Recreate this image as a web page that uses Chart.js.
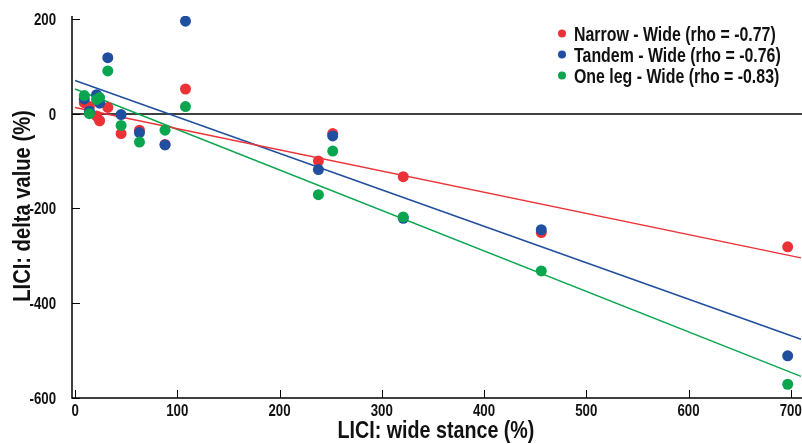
<!DOCTYPE html>
<html>
<head>
<meta charset="utf-8">
<script src="https://cdn.jsdelivr.net/npm/chart.js@4/dist/chart.umd.min.js"></script>
<style>
  html, body { margin: 0; padding: 0; background: #fff; }
  #wrap { width: 802px; height: 444px; }
</style>
</head>
<body>
<div id="wrap"><canvas id="canvas" width="802" height="444"></canvas></div>
<script>
// LICI wide stance (%) per subject
const wideStance = [9, 14, 21, 24, 32, 45, 63, 88, 108, 238, 252, 321, 456, 697];
// delta values per condition
const narrowDelta = [23, 15, -5, -15, 13, -42, -35, -65, 52, -100, -42, -133, -251, -281];
const tandemDelta = [31, 5, 40, 22, 118, -2, -40, -66, 195, -118, -47, -221, -245, -511];
const oneLegDelta = [38, 0, 30, 34, 90, -25, -60, -35, 15, -171, -79, -218, -332, -571];

const seriesLabels = ['Narrow - Wide (rho = -0.77)', 'Tandem - Wide (rho = -0.76)', 'One leg - Wide (rho = -0.83)'];
const seriesColors = ['#ec3237', '#1f4f9e', '#0aa64f'];

// regression lines
const fitIntercepts = [13, 70, 52];
const fitSlopes = [-0.447, -0.769, -0.854];
const fitRange = [0, 710];

const xTicks = [0, 100, 200, 300, 400, 500, 600, 700];
const yTicks = [-600, -400, -200, 0, 200];
const xTitle = 'LICI: wide stance (%)';
const yTitle = 'LICI: delta value (%)';

const FONT = '"Liberation Sans", Arial, sans-serif';

function points(ys) {
	return wideStance.map((x, i) => ({x: x, y: ys[i]}));
}

// narrow bold text (squeezed Arial, looks like Arial Narrow)
function narrowText(ctx, text, x, y, size, align, sx, rot) {
	ctx.save();
	ctx.translate(x, y);
	if (rot) ctx.rotate(rot);
	ctx.scale(sx, 1);
	ctx.font = 'bold ' + size + 'px ' + FONT;
	ctx.textAlign = align;
	ctx.textBaseline = 'alphabetic';
	ctx.fillText(text, 0, 0);
	ctx.restore();
}

const allDeltas = [narrowDelta, tandemDelta, oneLegDelta];
const datasets = [];
allDeltas.forEach((ys, i) => {
	datasets.push({
		type: 'scatter',
		label: seriesLabels[i],
		data: points(ys),
		backgroundColor: seriesColors[i],
		borderColor: seriesColors[i],
		borderWidth: 0,
		pointRadius: 5.5,
		order: 3 - i
	});
});
allDeltas.forEach((ys, i) => {
	datasets.push({
		type: 'line',
		label: 'fit' + i,
		data: fitRange.map(x => ({x: x, y: fitIntercepts[i] + fitSlopes[i] * x})),
		borderColor: seriesColors[i],
		borderWidth: 1.5,
		pointRadius: 0,
		fill: false,
		order: 10
	});
});

const axesPlugin = {
	id: 'axesPlugin',
	beforeDatasetsDraw(chart) {
		const ctx = chart.ctx;
		const y = chart.scales.y;
		const a = chart.chartArea;
		ctx.save();
		ctx.strokeStyle = '#000';
		ctx.lineWidth = 1.5;
		// zero line
		const y0 = Math.round(y.getPixelForValue(0));
		ctx.beginPath();
		ctx.moveTo(a.left, y0);
		ctx.lineTo(a.right, y0);
		ctx.stroke();
		ctx.restore();
	},
	afterDatasetsDraw(chart) {
		const ctx = chart.ctx;
		const x = chart.scales.x, y = chart.scales.y;
		const a = chart.chartArea;
		ctx.save();
		ctx.strokeStyle = '#000';
		ctx.lineWidth = 1.5;
		ctx.beginPath();
		ctx.moveTo(a.left, a.top);
		ctx.lineTo(a.left, a.bottom);
		ctx.lineTo(a.right, a.bottom);
		ctx.stroke();
		ctx.lineWidth = 1;
		ctx.beginPath();
		xTicks.forEach(v => {
			const px = Math.round(x.getPixelForValue(v)) + 0.5;
			ctx.moveTo(px, a.bottom);
			ctx.lineTo(px, a.bottom - 8);
		});
		yTicks.forEach(v => {
			const py = Math.round(y.getPixelForValue(v)) + 0.5;
			ctx.moveTo(a.left, py);
			ctx.lineTo(a.left + 8, py);
		});
		ctx.stroke();

		ctx.fillStyle = '#111';
		// tick labels
		xTicks.forEach(v => {
			narrowText(ctx, String(v), x.getPixelForValue(v), 416, 17, 'center', 0.78);
		});
		yTicks.forEach(v => {
			narrowText(ctx, String(v), 56, y.getPixelForValue(v) + 6, 17, 'right', 0.78);
		});
		// axis titles
		narrowText(ctx, xTitle, 436, 438, 24, 'center', 0.82);
		narrowText(ctx, yTitle, 30, 206, 24, 'center', 0.84, -Math.PI / 2);

		// legend
		for (let i = 0; i < 3; i++) {
			const ly = 33.5 + i * 21;
			ctx.fillStyle = seriesColors[i];
			ctx.beginPath();
			ctx.arc(562, ly, 4, 0, Math.PI * 2);
			ctx.fill();
			ctx.fillStyle = '#111';
			narrowText(ctx, seriesLabels[i], 574, ly + 7, 20, 'left', 0.795);
		}
		ctx.restore();
	}
};

window.onload = function() {
	const ctx = document.getElementById('canvas').getContext('2d');
	window.myChart = new Chart(ctx, {
		data: {datasets: datasets},
		options: {
			responsive: false,
			animation: false,
			layout: {autoPadding: false, padding: {top: 16, right: 0, left: 0, bottom: 0}},
			plugins: {legend: {display: false}, tooltip: {enabled: false}},
			scales: {
				x: {
					type: 'linear',
					min: -3,
					max: 711,
					afterBuildTicks: s => { s.ticks = xTicks.map(v => ({value: v})); },
					afterFit: s => { s.height = 46; },
					grid: {display: false, drawTicks: false},
					border: {display: false},
					ticks: {display: false}
				},
				y: {
					type: 'linear',
					min: -600,
					max: 206,
					afterBuildTicks: s => { s.ticks = yTicks.map(v => ({value: v})); },
					afterFit: s => { s.width = 72; },
					grid: {display: false, drawTicks: false},
					border: {display: false},
					ticks: {display: false}
				}
			}
		},
		plugins: [axesPlugin]
	});
};
</script>
</body>
</html>
